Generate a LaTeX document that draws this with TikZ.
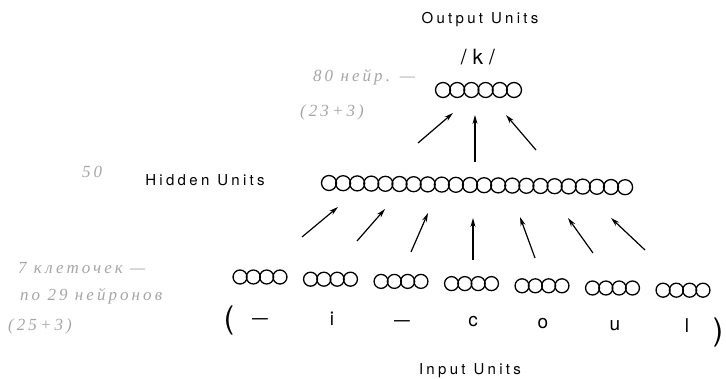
\documentclass[tikz,border=0pt]{standalone}
\usepackage{fontspec}
\usepackage{graphicx}
\setmainfont{TeX Gyre Heros}
\newfontfamily\labfont[LetterSpace=22]{TeX Gyre Heros}
\newfontfamily\notefont[LetterSpace=18]{Liberation Serif}
\usetikzlibrary{arrows.meta}
\tikzset{
  unit/.style={circle, draw, line width=1.3pt, minimum size=14pt, inner sep=0pt},
  hunit/.style={unit, minimum size=15pt},
  lab/.style={font=\labfont\fontsize{15}{18}\selectfont, inner sep=0pt},
  sym/.style={font=\labfont\fontsize{19}{22}\selectfont, inner sep=0pt, anchor=base},
  paren/.style={font=\fontsize{31}{34}\selectfont, inner sep=0pt},
  conn/.style={line width=1.2pt, -{Stealth[length=9pt,width=5pt]}},
  note/.style={font=\notefont\itshape\fontsize{17}{20}\selectfont, text=black!35, inner sep=0pt, anchor=west},
}
\begin{document}
\begin{tikzpicture}[x=1pt,y=-1pt]
\useasboundingbox (0,0) rectangle (726,379);
% labels
\node[lab] (outlab) at (480,20) {Output\hspace{8pt}Units};
\node[lab,font=\labfont\fontsize{21}{24}\selectfont] (klab) at (478,57) {/\hspace{6pt}k\hspace{6pt}/};
\node[lab] (hidlab) at (205,180) {Hidden\hspace{8pt}Units};
\node[lab] (inlab) at (470,371) {Input\hspace{8pt}Units};
% output units
\foreach \i in {1,...,6} \node[hunit] (o\i) at ({443+14.2*(\i-1)},90) {};
% hidden units
\foreach \i in {1,...,22} \node[hunit] (h\i) at ({329+14.1*(\i-1)},{183+0.2*(\i-1)}) {};
% input units
\foreach \g in {1,...,7}
  \foreach \j in {1,...,4}
    \node[unit] (i\g-\j) at ({260+70.5*(\g-1)+13.3*(\j-2.5)},{277+2.2*(\g-1)}) {};
% input letters
\node[paren] (lp) at (229,320) {(};
\node[sym] (c1) at (260,325) {\scalebox{1.5}[1]{–}};
\node[sym] (c2) at (332,326) {i};
\node[sym] (c3) at (402,327) {\scalebox{1.5}[1]{–}};
\node[sym] (c4) at (473,327) {c};
\node[sym] (c5) at (543,329) {o};
\node[sym] (c6) at (615,331) {u};
\node[sym] (c7) at (687,333) {l};
\node[paren] (rp) at (718,332) {)};
% arrows hidden -> output
\coordinate (a1s) at (418,143); \coordinate (a1e) at (453,113);
\coordinate (a2s) at (475,162); \coordinate (a2e) at (475,115);
\coordinate (a3s) at (536,150); \coordinate (a3e) at (506,115);
\foreach \k in {1,2,3} \draw[conn] (a\k s) -- (a\k e);
% arrows input -> hidden
\coordinate (b1s) at (302,237); \coordinate (b1e) at (338,207);
\coordinate (b2s) at (357,241); \coordinate (b2e) at (385,209);
\coordinate (b3s) at (411,252); \coordinate (b3e) at (428,213);
\coordinate (b4s) at (473,260); \coordinate (b4e) at (473,218);
\coordinate (b5s) at (535,258); \coordinate (b5e) at (520,217);
\coordinate (b6s) at (593,253); \coordinate (b6e) at (568,218);
\coordinate (b7s) at (645,250); \coordinate (b7e) at (611,218);
\foreach \k in {1,...,7} \draw[conn] (b\k s) -- (b\k e);
% handwritten notes
\node[note] (n1) at (313,77) {80 нейр. —};
\node[note] (n2) at (300,112) {(23+3)};
\node[note] (n3) at (82,172) {50};
\node[note] (n4) at (18,268) {7 клеточек —};
\node[note] (n5) at (20,296) {по 29 нейронов};
\node[note] (n6) at (8,326) {(25+3)};
\end{tikzpicture}
\end{document}
